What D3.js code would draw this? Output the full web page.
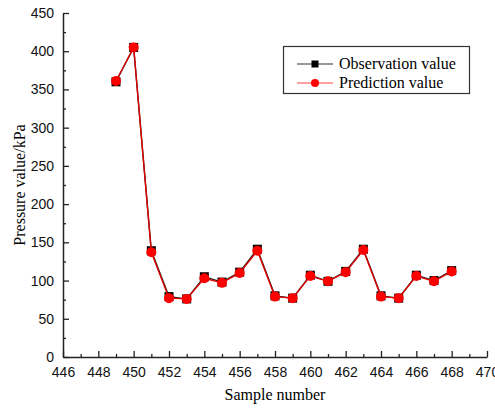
<!DOCTYPE html>
<html>
<head>
<meta charset="utf-8">
<script src="https://cdn.jsdelivr.net/npm/d3@7"></script>
<style>
  body { margin: 0; background: #fff; }
  svg { display: block; }
  .tick text { font-family: "Liberation Sans", Arial, sans-serif; font-size: 14px; fill: #111; }
</style>
</head>
<body>
<div id="chart"></div>
<script>
// sample numbers and pressure values (kPa)
const samples = [449, 450, 451, 452, 453, 454, 455, 456, 457, 458, 459, 460, 461, 462, 463, 464, 465, 466, 467, 468];
const observed = [360, 405, 139, 79, 76, 105, 98, 111, 141, 80, 77, 107, 99, 112, 141, 80, 77, 107, 100, 113];
const predicted = [361, 405, 137, 77, 76, 103, 97, 110, 139, 79, 77, 106, 99, 111, 140, 79, 77, 106, 99, 112];
const xTicks = [446, 448, 450, 452, 454, 456, 458, 460, 462, 464, 466, 468, 470];
const yTicks = [0, 50, 100, 150, 200, 250, 300, 350, 400, 450];

const width = 495, height = 408;
const margin = { top: 13, right: 8, bottom: 51, left: 63 };

const svg = d3.select("#chart").append("svg")
    .attr("width", width)
    .attr("height", height);

const x = d3.scaleLinear().domain([446, 470]).range([margin.left, width - margin.right]);
const y = d3.scaleLinear().domain([0, 450]).range([height - margin.bottom, margin.top]);

// minor ticks
svg.append("g")
    .attr("transform", `translate(0,${y(0)})`)
    .call(d3.axisBottom(x).tickValues(d3.range(447, 470, 2)).tickSize(-3).tickFormat(""))
    .call(g => g.select(".domain").remove())
    .call(g => g.selectAll("line").attr("stroke", "#222").attr("stroke-width", 1.3));
svg.append("g")
    .attr("transform", `translate(${x(446)},0)`)
    .call(d3.axisLeft(y).tickValues(d3.range(25, 450, 50)).tickSize(-3).tickFormat(""))
    .call(g => g.select(".domain").remove())
    .call(g => g.selectAll("line").attr("stroke", "#222").attr("stroke-width", 1.3));

// main axes, ticks pointing inward
const xAxis = svg.append("g")
    .attr("transform", `translate(0,${y(0)})`)
    .call(d3.axisBottom(x).tickValues(xTicks).tickSizeInner(-6).tickSizeOuter(0).tickPadding(10));
const yAxis = svg.append("g")
    .attr("transform", `translate(${x(446)},0)`)
    .call(d3.axisLeft(y).tickValues(yTicks).tickSizeInner(-6).tickSizeOuter(0).tickPadding(9));
[xAxis, yAxis].forEach(a => {
    a.select(".domain").attr("stroke", "#222").attr("stroke-width", 1.5);
    a.selectAll(".tick line").attr("stroke", "#222").attr("stroke-width", 1.3);
});

// axis titles
svg.append("text")
    .attr("x", (x(446) + x(470)) / 2)
    .attr("y", 400)
    .attr("text-anchor", "middle")
    .style("font-family", "'Liberation Serif', 'Times New Roman', serif")
    .style("font-size", "16px")
    .text("Sample number");
svg.append("text")
    .attr("transform", `translate(25,${(y(0) + y(450)) / 2}) rotate(-90)`)
    .attr("text-anchor", "middle")
    .style("font-family", "'Liberation Serif', 'Times New Roman', serif")
    .style("font-size", "16px")
    .text("Pressure value/kPa");

const line = d3.line().x(d => x(d[0])).y(d => y(d[1]));
const obsData = samples.map((s, i) => [s, observed[i]]);
const predData = samples.map((s, i) => [s, predicted[i]]);

// observation series
svg.append("path")
    .datum(obsData)
    .attr("fill", "none")
    .attr("stroke", "#222")
    .attr("stroke-width", 1.4)
    .attr("d", line);
svg.append("g")
    .selectAll("rect")
    .data(obsData)
    .enter()
    .append("rect")
    .attr("x", d => x(d[0]) - 4.5)
    .attr("y", d => y(d[1]) - 4.5)
    .attr("width", 9)
    .attr("height", 9)
    .attr("fill", "#000");

// prediction series
svg.append("path")
    .datum(predData)
    .attr("fill", "none")
    .attr("stroke", "#e00000")
    .attr("stroke-width", 1.4)
    .attr("d", line);
svg.append("g")
    .selectAll("circle")
    .data(predData)
    .enter()
    .append("circle")
    .attr("cx", d => x(d[0]))
    .attr("cy", d => y(d[1]))
    .attr("r", 5)
    .attr("fill", "#ff0000");

// legend
const legend = svg.append("g");
legend.append("rect")
    .attr("x", 283.5)
    .attr("y", 46.5)
    .attr("width", 186)
    .attr("height", 47)
    .attr("fill", "#fff")
    .attr("stroke", "#333")
    .attr("stroke-width", 1.2);
const items = [
    { label: "Observation value", color: "#333", marker: "square", y: 64 },
    { label: "Prediction value", color: "#ff4040", marker: "circle", y: 83 }
];
items.forEach(it => {
    legend.append("line")
        .attr("x1", 297).attr("x2", 333)
        .attr("y1", it.y).attr("y2", it.y)
        .attr("stroke", it.color)
        .attr("stroke-width", 1.2);
    if (it.marker === "square") {
        legend.append("rect")
            .attr("x", 315 - 3.5).attr("y", it.y - 3.5)
            .attr("width", 7).attr("height", 7)
            .attr("fill", "#000");
    } else {
        legend.append("circle")
            .attr("cx", 315).attr("cy", it.y)
            .attr("r", 4)
            .attr("fill", "#ff0000");
    }
    legend.append("text")
        .attr("x", 339)
        .attr("y", it.y + 5)
        .style("font-family", "'Liberation Serif', 'Times New Roman', serif")
        .style("font-size", "16px")
        .text(it.label);
});
</script>
</body>
</html>
